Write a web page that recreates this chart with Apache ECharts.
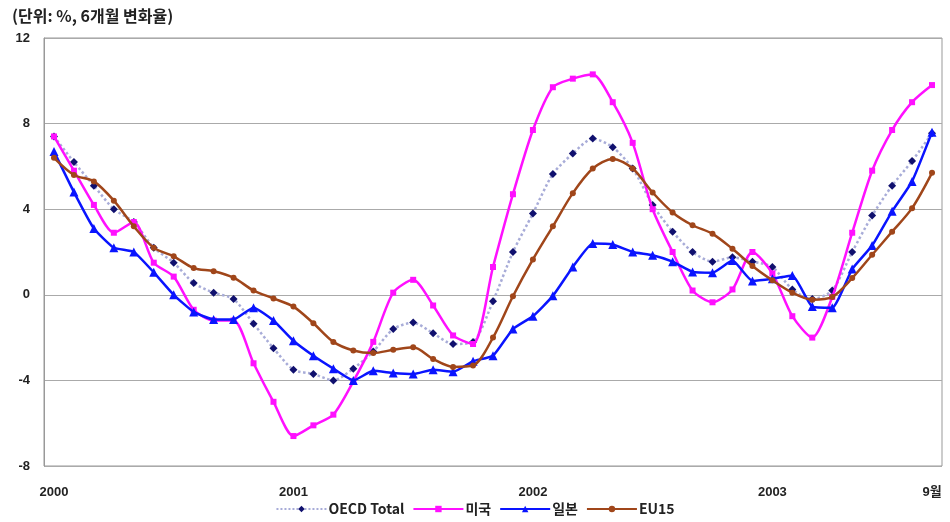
<!DOCTYPE html>
<html>
<head>
<meta charset="utf-8">
<script src="https://cdn.jsdelivr.net/npm/echarts@6/dist/echarts.min.js"></script>
<style>html,body{margin:0;padding:0;background:#fff;}#c{width:950px;height:522px;}</style>
</head>
<body>
<div id="c"></div>
<script>
// 2000.01 ~ 2003.09 monthly
var years = [2000, 2001, 2002, 2003];
var categories = [];
years.forEach(function (y) { for (var m = 1; m <= 12; m++) { if (y === 2003 && m > 9) break; categories.push(y + '.' + (m < 10 ? '0' + m : m)); } });
var tickLabels = { '2000.01': '2000', '2001.01': '2001', '2002.01': '2002', '2003.01': '2003', '2003.09': '9월' };
var yTicks = [-8, -4, 0, 4, 8, 12];

var oecd = [7.4, 6.2, 5.1, 4.0, 3.4, 2.2, 1.5, 0.55, 0.1, -0.2, -1.35, -2.5, -3.5, -3.7, -4.0, -3.45, -2.65, -1.6, -1.3, -1.8, -2.3, -2.2, -0.3, 2.0, 3.8, 5.65, 6.6, 7.3, 6.9, 5.9, 4.2, 2.95, 2.0, 1.55, 1.75, 1.55, 1.3, 0.25, -0.2, 0.2, 2.0, 3.7, 5.1, 6.25, 7.55];
var usa = [7.4, 5.8, 4.2, 2.9, 3.4, 1.5, 0.85, -0.7, -1.2, -1.2, -3.2, -5.0, -6.6, -6.1, -5.6, -4.05, -2.2, 0.1, 0.7, -0.5, -1.9, -2.3, 1.3, 4.7, 7.7, 9.7, 10.1, 10.3, 9.0, 7.1, 4.0, 2.0, 0.2, -0.35, 0.25, 2.0, 1.0, -1.0, -2.0, -0.1, 2.9, 5.8, 7.7, 9.0, 9.8];
var japan = [6.7, 4.8, 3.1, 2.2, 2.0, 1.05, 0.0, -0.8, -1.15, -1.15, -0.6, -1.2, -2.15, -2.85, -3.45, -4.0, -3.55, -3.65, -3.7, -3.5, -3.6, -3.1, -2.85, -1.6, -1.0, -0.05, 1.3, 2.4, 2.35, 2.0, 1.85, 1.55, 1.07, 1.03, 1.6, 0.65, 0.75, 0.9, -0.55, -0.6, 1.2, 2.3, 3.9, 5.3, 7.6];
var eu15 = [6.4, 5.6, 5.3, 4.4, 3.2, 2.2, 1.8, 1.25, 1.1, 0.8, 0.2, -0.17, -0.55, -1.33, -2.2, -2.6, -2.72, -2.57, -2.45, -3.0, -3.37, -3.3, -2.0, -0.07, 1.65, 3.2, 4.75, 5.9, 6.35, 5.9, 4.78, 3.85, 3.25, 2.85, 2.15, 1.35, 0.68, 0.1, -0.23, -0.1, 0.78, 1.87, 2.95, 4.05, 5.7];

var FONT = 'Liberation Sans, Arial, Noto Sans CJK KR, sans-serif';
var KFONT = 'Noto Sans CJK KR, sans-serif';
var chart = echarts.init(document.getElementById('c'));
chart.setOption({
  animation: false,
  backgroundColor: '#fff',
  title: {
    text: '(단위: %, 6개월 변화율)', left: 7, top: 3,
    textStyle: { fontFamily: KFONT, fontSize: 16, fontWeight: 'bold', color: '#222' }
  },
  grid: { left: 44, right: 8, top: 38, bottom: 56, show: true, borderColor: '#999', borderWidth: 1 },
  legend: {
    bottom: 1, left: 'center', itemWidth: 50, itemHeight: 8, itemGap: 8,
    textStyle: { fontFamily: KFONT, fontSize: 14, fontWeight: 'bold', color: '#222', padding: [0, 0, 0, -3] },
    data: ['OECD Total', '미국', '일본', 'EU15']
  },
  xAxis: {
    type: 'category', data: categories, boundaryGap: true,
    axisLine: { show: false }, axisTick: { show: false },
    axisLabel: {
      interval: function (i, v) { return tickLabels[v] !== undefined; },
      formatter: function (v) { return tickLabels[v] || ''; },
      fontFamily: FONT, fontSize: 13, fontWeight: 'bold', color: '#222', margin: 20
    }
  },
  yAxis: {
    type: 'value', min: yTicks[0], max: yTicks[yTicks.length - 1], interval: 4,
    axisLine: { show: true, lineStyle: { color: '#999' } }, axisTick: { show: false },
    axisLabel: { fontFamily: FONT, fontSize: 13, fontWeight: 'bold', color: '#222', margin: 14 },
    splitLine: { lineStyle: { color: '#aaa', width: 1.2 } }
  },
  series: [
    { name: 'OECD Total', type: 'line', data: oecd, smooth: 0.25, symbol: 'diamond', symbolSize: 8,
      lineStyle: { color: '#a8acd8', width: 2.5, type: 'dotted' }, itemStyle: { color: '#10106e' }, z: 3 },
    { name: '미국', type: 'line', data: usa, smooth: 0.25, symbol: 'rect', symbolSize: 6,
      lineStyle: { color: '#ff10ff', width: 2.5 }, itemStyle: { color: '#ff10ff' }, z: 4 },
    { name: '일본', type: 'line', data: japan, smooth: 0.15, symbol: 'triangle', symbolSize: 9,
      lineStyle: { color: '#0a14ff', width: 2.5 }, itemStyle: { color: '#0a14ff' }, z: 5 },
    { name: 'EU15', type: 'line', data: eu15, smooth: 0.3, symbol: 'circle', symbolSize: 6,
      lineStyle: { color: '#a0461a', width: 2.5 }, itemStyle: { color: '#a0461a' }, z: 6 }
  ]
});
</script>
</body>
</html>
